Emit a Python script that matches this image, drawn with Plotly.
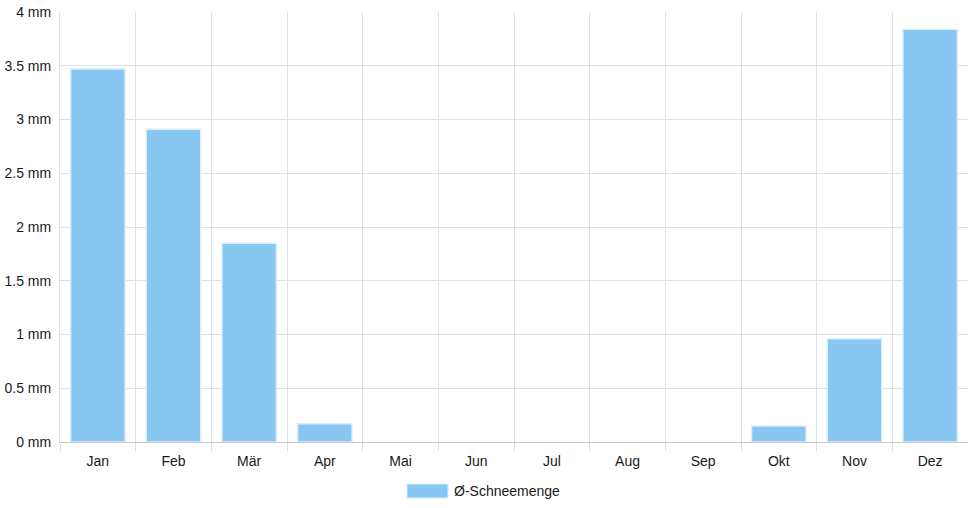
import plotly.graph_objects as go

months = ["Jan", "Feb", "Mär", "Apr", "Mai", "Jun", "Jul", "Aug", "Sep", "Okt", "Nov", "Dez"]
snow_mm = [3.47, 2.91, 1.85, 0.17, 0, 0, 0, 0, 0, 0.15, 0.96, 3.84]
y_ticks = [0, 0.5, 1, 1.5, 2, 2.5, 3, 3.5, 4]
y_tick_labels = ["0 mm", "0.5 mm", "1 mm", "1.5 mm", "2 mm", "2.5 mm", "3 mm", "3.5 mm", "4 mm"]
series_name = "Ø-Schneemenge"

bar_color = "rgba(135,199,242,1)"
border_color = "rgba(220,238,252,1)"
grid_color = "#e0e0e0"
font_color = "#1a1a1a"

fig = go.Figure()
fig.add_trace(go.Bar(
    x=months, y=snow_mm, name=series_name,
    marker=dict(color=bar_color,
                line=dict(color=border_color, width=[1.5 if v > 0 else 0 for v in snow_mm])),
    width=0.72, showlegend=False, hoverinfo="x+y",
))

fig.update_layout(
    width=968, height=508,
    margin=dict(l=60, r=0, t=12, b=66),
    paper_bgcolor="white", plot_bgcolor="white",
    font=dict(family="Liberation Sans, Arial, sans-serif", size=14, color=font_color),
    xaxis=dict(
        type="category", tickson="boundaries",
        showgrid=True, gridcolor=grid_color, gridwidth=1,
        ticks="outside", ticklen=8, tickcolor=grid_color,
        showline=True, linecolor="#c8c8c8", linewidth=1,
        tickfont=dict(size=14, color=font_color),
        ticklabelstandoff=6,
        range=[-0.5, 11.5],
    ),
    yaxis=dict(
        range=[0, 4], tickvals=y_ticks, ticktext=y_tick_labels,
        showgrid=True, gridcolor=grid_color, gridwidth=1,
        zeroline=False, ticks="", ticklabelstandoff=5,
        showline=True, linecolor=grid_color,
        tickfont=dict(size=14, color=font_color),
    ),
)

# custom legend (wide swatch like the reference)
fig.add_shape(type="rect", xref="paper", yref="paper",
              x0=(407 - 60) / 908, x1=(448 - 60) / 908,
              y0=-(498 - 442) / 430, y1=-(484 - 442) / 430,
              fillcolor=bar_color, line=dict(color=border_color, width=1))
fig.add_annotation(xref="paper", yref="paper",
                   x=(452 - 60) / 908, y=-(491 - 442) / 430,
                   xanchor="left", yanchor="middle", showarrow=False,
                   text=series_name, font=dict(size=14, color=font_color))

fig.write_html("out.html", config={"displayModeBar": False},
               post_script="document.body.style.margin='0';document.body.style.overflow='hidden';")
